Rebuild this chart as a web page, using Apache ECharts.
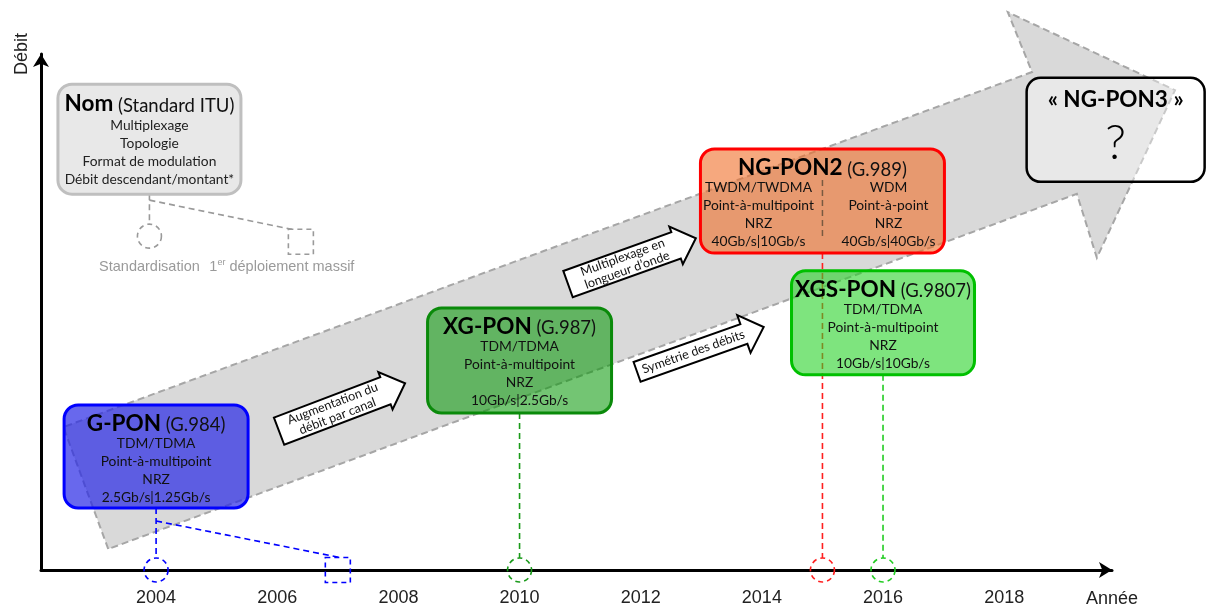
<!DOCTYPE html>
<html>
<head>
<meta charset="utf-8">
<script src="https://cdn.jsdelivr.net/npm/echarts@6/dist/echarts.min.js"></script>
<style>
  html, body { margin: 0; padding: 0; background: #fff; }
  #chart { width: 1207px; height: 609px; }
</style>
</head>
<body>
<div id="chart"></div>
<script>
// Year ticks on the time axis
const yearTicks = [2004, 2006, 2008, 2010, 2012, 2014, 2016, 2018];

// PON generations (ITU standards)
const names = ["G-PON", "XG-PON", "NG-PON2", "XGS-PON"];
const standards = ["G.984", "G.987", "G.989", "G.9807"];
const standardYears = [2004, 2010, 2015, 2016];
const debitLevels = [22.0, 40.6, 71.5, 47.9];
const deployYears = [2007, null, null, null];
const multiplexage = [["TDM/TDMA"], ["TDM/TDMA"], ["TWDM/TWDMA", "WDM"], ["TDM/TDMA"]];
const topologie = [["Point-à-multipoint"], ["Point-à-multipoint"], ["Point-à-multipoint", "Point-à-point"], ["Point-à-multipoint"]];
const modulation = [["NRZ"], ["NRZ"], ["NRZ", "NRZ"], ["NRZ"]];
const debits = [["2.5Gb/s|1.25Gb/s"], ["10Gb/s|2.5Gb/s"], ["40Gb/s|10Gb/s", "40Gb/s|40Gb/s"], ["10Gb/s|10Gb/s"]];

// Next generation (unknown)
const futureName = "« NG-PON3 »";
const futureYear = 2019.84;
const futureLevel = 85.3;

// Legend box
const legendName = "Nom";
const legendStandard = "Standard ITU";
const legendRows = ["Multiplexage", "Topologie", "Format de modulation", "Débit descendant/montant*"];
const legendPos = [2003.89, 83.5];
const legendCircle = [2003.89, 64.7];
const legendSquare = [2006.39, 63.6];

// Big trend arrow outline (year, débit)
const trendYears = [2003.21, 2002.47, 2018.46, 2018.06, 2020.82, 2019.53, 2019.20];
const trendLevels = [4.07, 27.7, 96.5, 108.1, 93.0, 60.5, 72.9];

// Small transition arrows: tail -> tip
const stepTexts = [["Augmentation du", "débit par canal"], ["Multiplexage en", "longueur d’onde"], ["Symétrie des débits"]];
const stepFrom = [[2006.03, 26.9], [2010.80, 55.4], [2011.94, 38.4]];
const stepTo = [[2008.11, 36.2], [2012.91, 64.3], [2014.03, 47.1]];

// ---- styles ----
const boxFont = "Lato, 'Open Sans', sans-serif";
const axisFont = "Liberation Sans, Arial, sans-serif";
const genStyles = [
  { w: 184, h: 103, fill: "rgba(40,40,230,0.7)", stroke: "#0000ff", line: "#0000ff" },
  { w: 184, h: 105, fill: "rgba(0,150,0,0.55)", stroke: "#0a8a0a", line: "#1a9a1a" },
  { w: 244, h: 104, fill: "rgba(240,110,40,0.6)", stroke: "#ff0000", line: "#ff2020" },
  { w: 183, h: 104, fill: "rgba(40,210,40,0.6)", stroke: "#00c000", line: "#22cc22" }
];
const stepHalf = [14.5, 14, 10.5];

function titleText(name, std) {
  return "{b|" + name + "}{n| (" + std + ")}";
}
const titleRich = {
  b: { fontSize: 22.5, fontWeight: "bold", fontFamily: boxFont, fill: "#000", lineHeight: 26, verticalAlign: "bottom" },
  n: { fontSize: 18.5, fontFamily: boxFont, fill: "#111", lineHeight: 23.5, verticalAlign: "bottom" }
};

function rowsText(cx, top, rows, fill) {
  return {
    type: "text", x: cx, y: top,
    style: { text: rows.join("\n"), fontSize: 13.8, fontFamily: boxFont, fill: fill || "#111",
      lineHeight: 17.8, align: "center", verticalAlign: "top" }
  };
}

function dashedLine(x1, y1, x2, y2, color) {
  return { type: "line", shape: { x1, y1, x2, y2 }, style: { stroke: color, lineWidth: 1.6, lineDash: [6, 4] } };
}
function dashedCircle(p, color) {
  return { type: "circle", shape: { cx: p[0], cy: p[1], r: 12 }, style: { fill: "none", stroke: color, lineWidth: 1.6, lineDash: [5, 4] } };
}
function dashedSquare(p, color) {
  return { type: "rect", shape: { x: p[0] - 12.5, y: p[1] - 12.5, width: 25, height: 25 }, style: { fill: "none", stroke: color, lineWidth: 1.6, lineDash: [5, 4] } };
}

// ---- renderers ----
function renderTrend(params, api) {
  if (params.dataIndex !== 0) return null;
  const pts = trendYears.map((y, i) => api.coord([y, trendLevels[i]]));
  return { type: "polygon", shape: { points: pts },
    style: { fill: "#d9d9d9", stroke: "#a6a6a6", lineWidth: 2, lineDash: [7, 4] } };
}

function renderConnector(params, api) {
  const i = params.dataIndex;
  const st = genStyles[i];
  const c = api.coord([standardYears[i], debitLevels[i]]);
  const circ = api.coord([standardYears[i], 0]);
  const bottom = c[1] + st.h / 2;
  const children = [dashedLine(c[0], bottom, circ[0], circ[1] - 12, st.line), dashedCircle(circ, st.line)];
  if (deployYears[i] != null) {
    const sq = api.coord([deployYears[i], 0]);
    children.push(dashedLine(c[0], bottom + 13, sq[0] + 2, sq[1] - 12.5, st.line));
    children.push(dashedSquare(sq, st.line));
  }
  return { type: "group", children };
}

function renderBox(params, api) {
  const i = params.dataIndex;
  const st = genStyles[i];
  const c = api.coord([standardYears[i], debitLevels[i]]);
  const top = c[1] - st.h / 2;
  const children = [
    { type: "rect", shape: { x: c[0] - st.w / 2, y: top, width: st.w, height: st.h, r: 14 },
      style: { fill: st.fill, stroke: st.stroke, lineWidth: 3 } },
    { type: "text", x: c[0], y: top + 17,
      style: { text: titleText(names[i], standards[i]), rich: titleRich, align: "center", verticalAlign: "middle" } }
  ];
  const cols = multiplexage[i].length;
  const offsets = cols === 1 ? [0] : [-64, 66];
  for (let k = 0; k < cols; k++) {
    children.push(rowsText(c[0] + offsets[k], top + 30,
      [multiplexage[i][k], topologie[i][k], modulation[i][k], debits[i][k]]));
  }
  if (cols > 1) {
    children.push({ type: "line", shape: { x1: c[0], y1: top + 31, x2: c[0], y2: top + 88 },
      style: { stroke: "#7a5a40", lineWidth: 1.5, lineDash: [6, 4] } });
  }
  return { type: "group", children };
}

function renderLegend(params, api) {
  const c = api.coord(legendPos);
  const w = 183, h = 110, top = c[1] - h / 2;
  const circ = api.coord(legendCircle);
  const sq = api.coord(legendSquare);
  const gray = "#9a9a9a";
  return { type: "group", children: [
    dashedLine(c[0], top + h, circ[0], circ[1] - 12, gray),
    dashedCircle(circ, gray),
    dashedLine(c[0], top + h + 6, sq[0] - 9, sq[1] - 12.5, gray),
    dashedSquare(sq, gray),
    { type: "rect", shape: { x: c[0] - w / 2, y: top, width: w, height: h, r: 14 },
      style: { fill: "#e8e8e8", stroke: "#bfbfbf", lineWidth: 3 } },
    { type: "text", x: c[0], y: top + 18,
      style: { text: titleText(legendName, legendStandard), rich: titleRich, align: "center", verticalAlign: "middle" } },
    rowsText(c[0], top + 33, legendRows, "#222"),
    { type: "text", x: circ[0], y: circ[1] + 31,
      style: { text: "Standardisation", fontSize: 14.5, fontFamily: axisFont, fill: gray, align: "center", verticalAlign: "middle" } },
    { type: "text", x: sq[0] - 19, y: sq[1] + 25,
      style: { text: "1{s|er} déploiement massif", fontSize: 14.5, fontFamily: axisFont, fill: gray, align: "center", verticalAlign: "middle",
        rich: { s: { fontSize: 9, fontFamily: axisFont, fill: gray, verticalAlign: "top", lineHeight: 17 } } } }
  ] };
}

function renderFuture(params, api) {
  const c = api.coord([futureYear, futureLevel]);
  const w = 178, h = 104, top = c[1] - h / 2;
  return { type: "group", children: [
    { type: "rect", shape: { x: c[0] - w / 2, y: top, width: w, height: h, r: 14 },
      style: { fill: "rgba(255,255,255,0.4)", stroke: "#000", lineWidth: 2.5 } },
    { type: "text", x: c[0], y: top + 22,
      style: { text: futureName, fontSize: 22.5, fontWeight: "bold", fontFamily: boxFont, fill: "#000", align: "center", verticalAlign: "middle" } },
    { type: "text", x: c[0], y: top + 66,
      style: { text: "?", fontSize: 48, fontWeight: 300, fontFamily: boxFont, fill: "#000", align: "center", verticalAlign: "middle" } }
  ] };
}

function renderStep(params, api) {
  const i = params.dataIndex;
  const p0 = api.coord(stepFrom[i]);
  const p1 = api.coord(stepTo[i]);
  const dx = p1[0] - p0[0], dy = p1[1] - p0[1];
  const len = Math.sqrt(dx * dx + dy * dy);
  const ang = Math.atan2(-dy, dx);
  const sh = stepHalf[i], hh = 20, hl = 21;
  const pts = [[0, -sh], [len - hl, -sh], [len - hl, -hh], [len, 0], [len - hl, hh], [len - hl, sh], [0, sh]];
  return { type: "group", x: p0[0], y: p0[1], rotation: ang, children: [
    { type: "polygon", shape: { points: pts }, style: { fill: "#fff", stroke: "#000", lineWidth: 2 } },
    { type: "text", x: (len - hl) / 2 + 3, y: 0,
      style: { text: stepTexts[i].join("\n"), fontSize: 12.6, lineHeight: 13.5, fontFamily: boxFont, fill: "#111", align: "center", verticalAlign: "middle" } }
  ] };
}

const chartDom = document.getElementById("chart");
const myChart = echarts.init(chartDom);

const genData = standardYears.map((y, i) => [y, debitLevels[i]]);

const option = {
  animation: false,
  grid: { left: 41, right: 95, top: 54, bottom: 39 },
  xAxis: {
    type: "value",
    min: 2002.1,
    max: 2019.78,
    splitLine: { show: false },
    axisTick: { show: false },
    axisLine: { show: true, symbol: ["none", "arrow"], symbolSize: [12, 13], lineStyle: { color: "#000", width: 3 } },
    axisLabel: {
      customValues: yearTicks,
      formatter: (v) => String(v),
      color: "#222",
      fontSize: 18,
      fontFamily: axisFont,
      margin: 19
    },
    name: "Année",
    nameLocation: "end",
    nameGap: 0,
    nameTextStyle: { color: "#222", fontSize: 18, fontFamily: axisFont, align: "center", verticalAlign: "top", padding: [20, 0, 0, 0] }
  },
  yAxis: {
    type: "value",
    min: 0,
    max: 100,
    splitLine: { show: false },
    axisTick: { show: false },
    axisLabel: { show: false },
    axisLine: { show: true, symbol: ["none", "arrow"], symbolSize: [12, 13], lineStyle: { color: "#000", width: 3 } },
    name: "Débit",
    nameLocation: "end",
    nameRotate: 90,
    nameGap: 0,
    nameTextStyle: { color: "#222", fontSize: 18, fontFamily: axisFont, align: "center", verticalAlign: "bottom", padding: [0, 0, 10, 0] }
  },
  series: [
    { type: "custom", name: "trend", silent: true, z: 1, renderItem: renderTrend,
      data: trendYears.map((y, i) => [y, trendLevels[i]]) },
    { type: "custom", name: "connectors", silent: true, z: 2, renderItem: renderConnector, data: genData },
    { type: "custom", name: "legend", silent: true, z: 3, renderItem: renderLegend, data: [legendPos] },
    { type: "custom", name: "boxes", silent: true, z: 4, renderItem: renderBox, data: genData },
    { type: "custom", name: "future", silent: true, z: 4, renderItem: renderFuture, data: [[futureYear, futureLevel]] },
    { type: "custom", name: "steps", silent: true, z: 5, renderItem: renderStep, data: stepFrom }
  ]
};

myChart.setOption(option);

window.addEventListener("resize", () => {
  myChart.resize();
});
</script>
</body>
</html>
